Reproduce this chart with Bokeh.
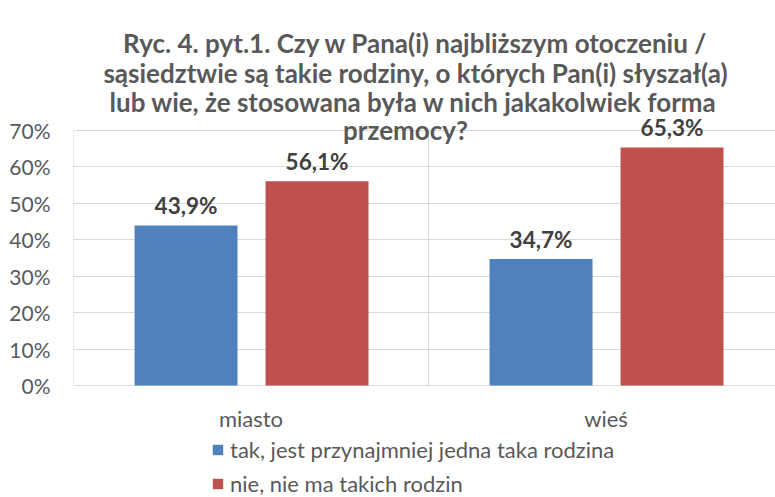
from bokeh.plotting import figure
from bokeh.models import (Range1d, NumeralTickFormatter, FixedTicker, Label,
                          Legend, LegendItem, ColumnDataSource)
from bokeh.embed import file_html
from bokeh.resources import INLINE
from bokeh.core.properties import value

# ---- data ----
categories = ["miasto", "wieś"]
series_names = ["tak, jest przynajmniej jedna taka rodzina", "nie, nie ma takich rodzin"]
tak_values = [0.439, 0.347]
nie_values = [0.561, 0.653]
y_ticks = [0.0, 0.1, 0.2, 0.3, 0.4, 0.5, 0.6, 0.7]
title_lines = [
    "Ryc. 4. pyt.1. Czy w Pana(i) najbliższym otoczeniu /",
    "sąsiedztwie są takie rodziny, o których Pan(i) słyszał(a)",
    "lub wie, że stosowana była w nich jakakolwiek forma",
    "przemocy?",
]

# ---- style ----
BLUE = "#4F81BD"
RED = "#C0504D"
GRID = "#D9D9D9"
TXT = "#595959"
VAL = "#404040"
FONT = "Lato"

W, H = 775, 497
LEFT = 73
zero_px = 385.0              # pixel row of the 0% line (from top)
top_px = 130.0               # pixel row of the 70% line
frame_w = W - LEFT
cat_px = 355.0               # pixel width of one category
per_px = y_ticks[-1] / (zero_px - top_px)
y_top = zero_px * per_px
y_bot = -(H - zero_px) * per_px

positions = [i + 1 for i in range(len(categories))]
bar_w = 0.29
off_tak = -0.183
off_nie = 0.186

p = figure(width=W, height=H, output_backend="svg", toolbar_location=None,
           x_range=Range1d(0.5, 0.5 + frame_w / cat_px), y_range=Range1d(y_bot, y_top),
           min_border_left=LEFT, min_border_right=0, min_border_top=0,
           min_border_bottom=0)
p.outline_line_color = None
p.background_fill_color = "white"
p.xaxis.visible = False

# vertical separators between categories (only over the 0-70% band)
bounds = [c - 0.5 for c in positions]
p.segment(x0=bounds, x1=bounds, y0=[0] * len(bounds), y1=[y_ticks[-1]] * len(bounds),
          line_color=GRID, line_width=1)

src_tak = ColumnDataSource(dict(x=[c + off_tak for c in positions], top=tak_values,
                                lab=[f"{v*100:.1f}%".replace(".", ",") for v in tak_values]))
src_nie = ColumnDataSource(dict(x=[c + off_nie for c in positions], top=nie_values,
                                lab=[f"{v*100:.1f}%".replace(".", ",") for v in nie_values]))

r_tak = p.vbar(x="x", top="top", width=bar_w, bottom=0, source=src_tak,
               fill_color=BLUE, line_color=None)
r_nie = p.vbar(x="x", top="top", width=bar_w, bottom=0, source=src_nie,
               fill_color=RED, line_color=None)

for src in (src_tak, src_nie):
    p.text(x="x", y="top", text="lab", source=src, text_align="center",
           text_baseline="alphabetic", y_offset=-20, text_font=value(FONT),
           text_font_style="bold", text_font_size="22.5px", text_color=VAL)

# category labels under the 0% line
p.text(x=positions, y=[0] * len(positions), text=categories, text_align="center",
       text_baseline="alphabetic", y_offset=33, text_font=value(FONT),
       text_font_size="22px", text_color=TXT)

# y axis
p.yaxis.ticker = FixedTicker(ticks=y_ticks)
p.yaxis.formatter = NumeralTickFormatter(format="0%")
p.yaxis.axis_line_color = None
p.yaxis.major_tick_line_color = None
p.yaxis.minor_tick_line_color = None
p.yaxis.major_label_text_font = FONT
p.yaxis.major_label_text_font_size = "21px"
p.yaxis.major_label_text_color = TXT
p.yaxis.major_label_standoff = 17

p.ygrid.ticker = FixedTicker(ticks=y_ticks)
p.ygrid.grid_line_color = GRID
p.xgrid.grid_line_color = None

# title lines (screen units, relative to the plot's bottom-left); baselines in px from top
title_baselines = [42, 72, 101, 129]
title_x = [342, 342, 340, 332]
for t, tx, base in zip(title_lines, title_x, title_baselines):
    p.add_layout(Label(x=tx, y=H - base, x_units="screen", y_units="screen", text=t,
                       text_align="center", text_baseline="alphabetic",
                       text_font=FONT, text_font_style="bold",
                       text_font_size="26px", text_color=TXT))

legend = Legend(items=[LegendItem(label=series_names[0], renderers=[r_tak]),
                       LegendItem(label=series_names[1], renderers=[r_nie])],
                location=(138, 0), orientation="vertical",
                glyph_width=13, glyph_height=13, label_standoff=6,
                label_text_font=FONT, label_text_font_size="22px",
                label_text_color=TXT, border_line_color=None,
                background_fill_alpha=0, padding=0, spacing=7, margin=0)
p.add_layout(legend)

open("out.html", "w").write(file_html(p, INLINE))
